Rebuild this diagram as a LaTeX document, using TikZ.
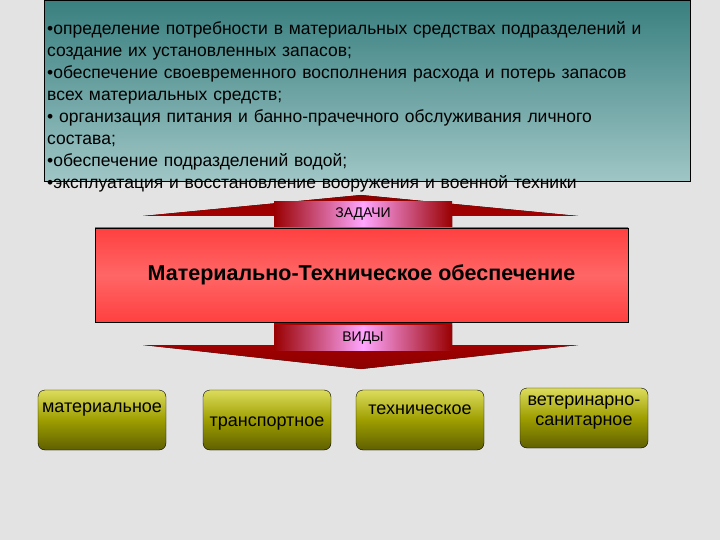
\documentclass[tikz,border=0pt]{standalone}
\usepackage{fontspec}
\setmainfont{Liberation Sans}
\begin{document}
\begin{tikzpicture}[x=1pt,y=-1pt,
  ybox/.style={draw=black,rounded corners=7pt,top color=yellow!45!olive!50!white,bottom color=olive!75!black,minimum width=128pt,minimum height=60pt,inner sep=0pt},
  ytext/.style={font=\fontsize{18}{20}\selectfont,align=center,inner sep=0pt},
  pinkbox/.style={left color=red!60!black,right color=red!60!black,middle color=magenta!35!white,minimum width=178pt,minimum height=25pt,inner sep=0pt,font=\fontsize{14}{15}\selectfont}]
\useasboundingbox (0,0) rectangle (720,540);
\fill[gray!22] (0,0) rectangle (720,540);
% top box
\node[draw=black,top color=teal!55!gray,bottom color=cyan!25!gray!60,minimum width=646pt,minimum height=181pt,anchor=north west,inner sep=0pt] (tb) at (44,0) {};
% double arrow
\fill[top color=red!55!black,bottom color=red!70!black] (361,195) -- (578,216) -- (452,216) -- (452,228) -- (274,228) -- (274,216) -- (143,216) -- cycle;
\fill[top color=red!70!black,bottom color=red!55!black] (361,369) -- (578,345) -- (452,345) -- (452,322) -- (274,322) -- (274,345) -- (143,345) -- cycle;
\node[anchor=north west,align=left,text width=660pt,font=\fontsize{17.5}{22}\selectfont,inner sep=0pt] (tt) at (47,21) {%
•определение потребности в материальных средствах подразделений и\\
создание их установленных запасов;\\
•обеспечение своевременного восполнения расхода и потерь запасов\\
всех материальных средств;\\
• организация питания и банно-прачечного обслуживания личного\\
состава;\\
•обеспечение подразделений водой;\\
•эксплуатация и восстановление вооружения и военной техники};
\node[pinkbox] (z) at (363,214) {ЗАДАЧИ};
\node[pinkbox] (v) at (363,338) {ВИДЫ};
\node[draw=black,top color=red!75!white,bottom color=red!75!white,middle color=red!60!white,minimum width=533pt,minimum height=94pt,font=\bfseries\fontsize{21.5}{24}\selectfont] (m) at (361.5,275) {Материально-Техническое обеспечение};
% bottom boxes
\node[ybox] (b1) at (102,420) {};
\node[ybox] (b2) at (267,420) {};
\node[ybox] (b3) at (420,420) {};
\node[ybox] (b4) at (584,418) {};
\node[ytext] (t1) at (102,410) {материальное};
\node[ytext] (t2) at (267,424) {транспортное};
\node[ytext] (t3) at (420,410) {техническое};
\node[ytext] (t4) at (584,413) {ветеринарно-\\санитарное};
\end{tikzpicture}
\end{document}
